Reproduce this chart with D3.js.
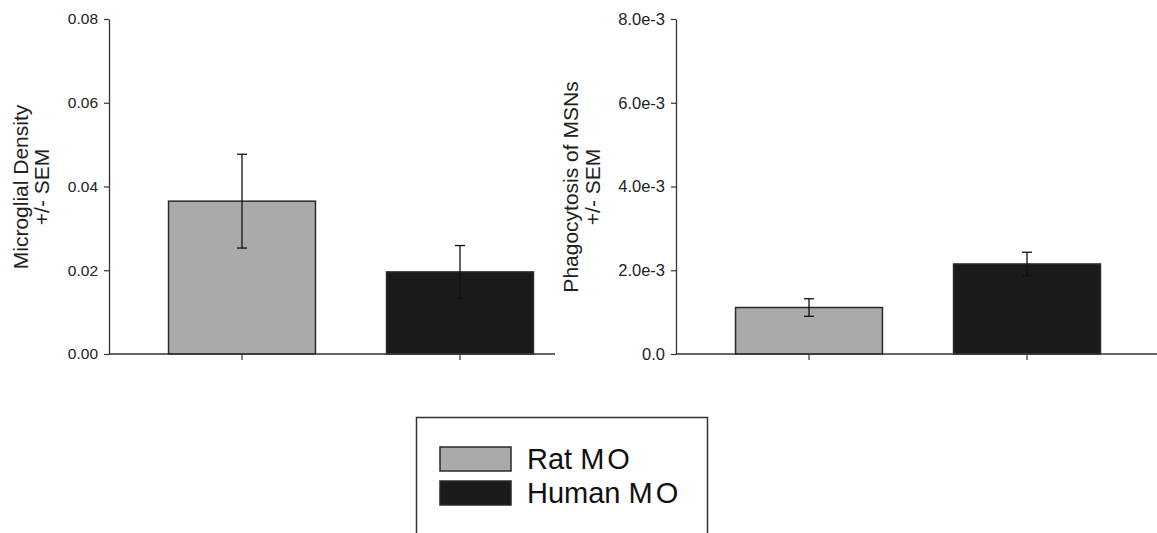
<!DOCTYPE html>
<html>
<head>
<meta charset="utf-8">
<script src="https://cdn.jsdelivr.net/npm/d3@7"></script>
<style>
  html, body { margin: 0; padding: 0; background: #fff; }
  svg { display: block; font-family: "Liberation Sans", Arial, sans-serif; }
</style>
</head>
<body>
<svg id="chart" width="1157" height="533"></svg>
<script>
// Groups and colours
const groups = ["Rat MO", "Human MO"];
const groupColors = ["#aaaaaa", "#1b1b1b"];

// Microglial density (mean, SEM)
const densityMean = [0.0365, 0.0196];
const densitySEM = [0.0112, 0.0063];
const densityTicks = [0, 0.02, 0.04, 0.06, 0.08];

// Phagocytosis of MSNs (mean, SEM)
const phagoMean = [0.00111, 0.00215];
const phagoSEM = [0.00021, 0.00028];
const phagoTicks = [0, 0.002, 0.004, 0.006, 0.008];

const svg = d3.select("#chart");
const axisColor = "#333";
const textColor = "#222";

function panel(opts) {
  const g = svg.append("g").attr("transform", `translate(${opts.x0},0)`);
  const y = d3.scaleLinear().domain([0, opts.max]).range([354, 19]);
  const x = d3.scaleBand().domain(groups).range([24, 460])
    .paddingInner(0.326).paddingOuter(0.163);

  // bars
  g.selectAll("rect.bar").data(opts.mean).join("rect")
    .attr("class", "bar")
    .attr("x", (d, i) => x(groups[i]))
    .attr("width", x.bandwidth())
    .attr("y", d => y(d))
    .attr("height", d => y(0) - y(d))
    .attr("fill", (d, i) => groupColors[i])
    .attr("stroke", "#2a2a2a")
    .attr("stroke-width", 1.5);

  // error bars
  const eb = g.selectAll("g.err").data(opts.mean).join("g").attr("class", "err")
    .attr("stroke", "#111").attr("stroke-width", 1.3);
  eb.append("line")
    .attr("x1", (d, i) => x(groups[i]) + x.bandwidth() / 2)
    .attr("x2", (d, i) => x(groups[i]) + x.bandwidth() / 2)
    .attr("y1", (d, i) => y(d + opts.sem[i]))
    .attr("y2", (d, i) => y(d - opts.sem[i]));
  [1, -1].forEach(s => {
    eb.append("line")
      .attr("x1", (d, i) => x(groups[i]) + x.bandwidth() / 2 - 5)
      .attr("x2", (d, i) => x(groups[i]) + x.bandwidth() / 2 + 5)
      .attr("y1", (d, i) => y(d + s * opts.sem[i]))
      .attr("y2", (d, i) => y(d + s * opts.sem[i]));
  });

  // y axis
  const ya = g.append("g")
    .call(d3.axisLeft(y).tickValues(opts.ticks).tickFormat(opts.fmt)
      .tickSize(5).tickSizeOuter(0).tickPadding(opts.pad))
    .attr("font-size", opts.tickSize)
    .attr("font-family", "'Liberation Sans', Arial, sans-serif");
  ya.select(".domain").attr("stroke", axisColor).attr("stroke-width", 1.3);
  ya.selectAll(".tick line").attr("stroke", axisColor).attr("stroke-width", 1.2);
  ya.selectAll(".tick text").attr("fill", textColor);

  // x axis baseline and category ticks
  g.append("line").attr("x1", 0).attr("x2", opts.xw)
    .attr("y1", y(0)).attr("y2", y(0))
    .attr("stroke", axisColor).attr("stroke-width", 1.3);
  g.selectAll("line.xt").data(groups).join("line").attr("class", "xt")
    .attr("x1", d => x(d) + x.bandwidth() / 2).attr("x2", d => x(d) + x.bandwidth() / 2)
    .attr("y1", y(0)).attr("y2", y(0) + 6)
    .attr("stroke", axisColor).attr("stroke-width", 1.2);

  // y axis title (two lines, rotated)
  opts.title.forEach((t, k) => {
    g.append("text")
      .attr("transform", `translate(${opts.titleX[k] - opts.x0},187) rotate(-90)`)
      .attr("text-anchor", "middle")
      .attr("dominant-baseline", "central")
      .attr("fill", textColor)
      .style("font-size", opts.titleSize + "px")
      .text(t);
  });
}

panel({
  x0: 109, xw: 446, max: 0.08, ticks: densityTicks,
  mean: densityMean, sem: densitySEM,
  fmt: d3.format(".2f"), pad: 6, tickSize: 15.5,
  title: ["Microglial Density", "+/- SEM"], titleX: [20, 41], titleSize: 21
});

panel({
  x0: 676, xw: 481, max: 0.008, ticks: phagoTicks,
  mean: phagoMean, sem: phagoSEM,
  fmt: d => d === 0 ? "0.0" : (d * 1000).toFixed(1) + "e-3", pad: 6, tickSize: 16.5,
  title: ["Phagocytosis of MSNs", "+/- SEM"], titleX: [570, 592], titleSize: 21
});

// legend
const lg = svg.append("g");
lg.append("rect").attr("x", 416.5).attr("y", 417.5).attr("width", 291).attr("height", 130)
  .attr("fill", "#fff").attr("stroke", "#333").attr("stroke-width", 1.5);
groups.forEach((name, i) => {
  lg.append("rect").attr("x", 440).attr("y", 447 + i * 34).attr("width", 71).attr("height", 24)
    .attr("fill", groupColors[i]).attr("stroke", "#2a2a2a").attr("stroke-width", 1.5);
  const parts = name.split(" ");
  const t = lg.append("text").attr("x", 527).attr("y", 459 + i * 34)
    .attr("dominant-baseline", "central")
    .attr("fill", "#111")
    .style("font-size", "29px");
  t.append("tspan").text(parts[0] + " ");
  t.append("tspan").attr("letter-spacing", "3px").text(parts[1]);
});
</script>
</body>
</html>
